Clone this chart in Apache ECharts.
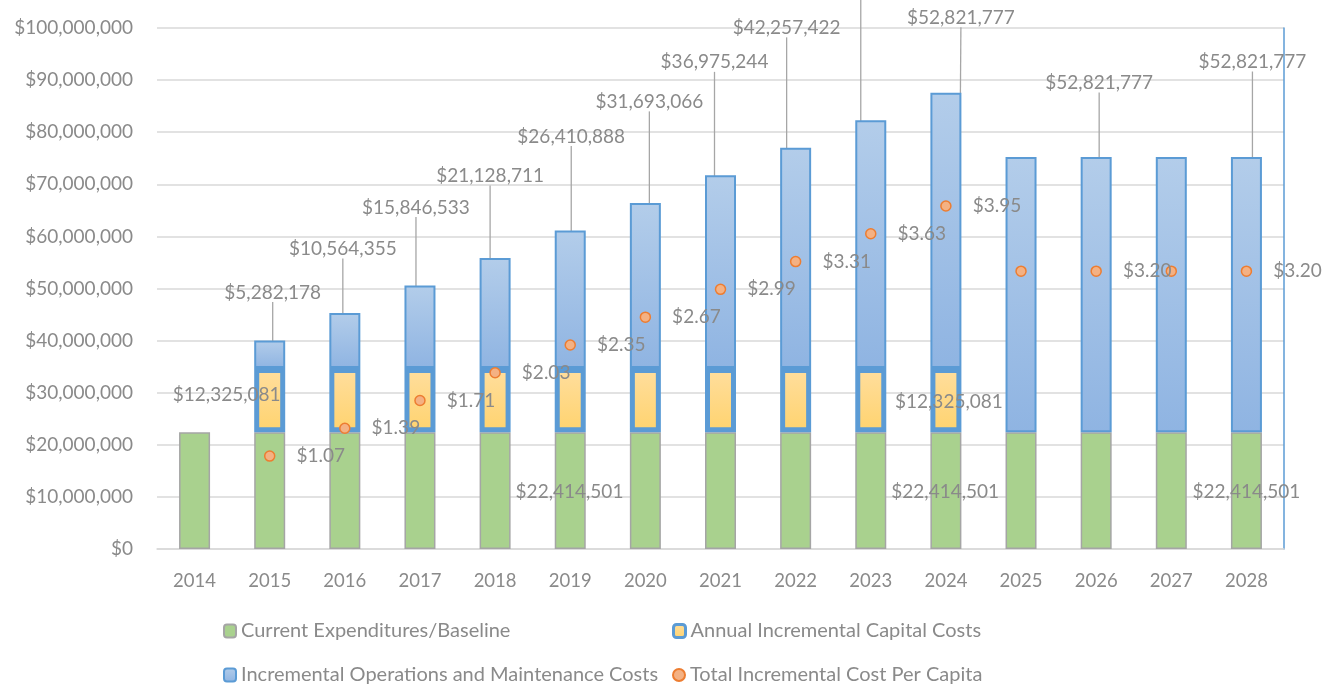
<!DOCTYPE html>
<html>
<head>
<meta charset="utf-8">
<script src="https://cdn.jsdelivr.net/npm/echarts@6/dist/echarts.min.js"></script>
<style>
  html, body { margin: 0; padding: 0; background: #ffffff; }
  #chart { width: 1338px; height: 686px; }
</style>
</head>
<body>
<div id="chart"></div>
<script>
// Fiscal years on the category axis
const years = ['2014', '2015', '2016', '2017', '2018', '2019', '2020', '2021',
               '2022', '2023', '2024', '2025', '2026', '2027', '2028'];

// Cost components (dollars per year), stacked bottom to top
const baseline = [22414501, 22414501, 22414501, 22414501, 22414501, 22414501, 22414501, 22414501,
                  22414501, 22414501, 22414501, 22414501, 22414501, 22414501, 22414501];
const capital = ['-', 12325081, 12325081, 12325081, 12325081, 12325081, 12325081, 12325081,
                 12325081, 12325081, 12325081, '-', '-', '-', '-'];
const operations = ['-', 5282178, 10564355, 15846533, 21128711, 26410888, 31693066, 36975244,
                    42257422, 47539599, 52821777, 52821777, 52821777, 52821777, 52821777];

// Total incremental cost per capita (dollars), plotted on the secondary axis
const perCapita = ['-', 1.07, 1.39, 1.71, 2.03, 2.35, 2.67, 2.99, 3.31, 3.63, 3.95, 3.20, 3.20, 3.20, 3.20];

// Axis ranges
const costAxis = { min: 0, max: 100000000, interval: 10000000 };
const perCapitaAxis = { min: 0, max: 6 };

// Series names (legend entries)
const NAME_BASE = 'Current Expenditures/Baseline';
const NAME_CAP = 'Annual Incremental Capital Costs';
const NAME_OM = 'Incremental Operations and Maintenance Costs';
const NAME_PC = 'Total Incremental Cost Per Capita';

// Which points carry a value label
const baselineLabelled = { 4: 'right', 9: 'right', 14: 'inside' };
const capitalLabelled = { 1: [-43, -5], 10: [3, 2] };
// Callout placement for the O&M labels: [dx, dy] of the label centre from the bar top centre
const operationsCallouts = {
  1: [3, -48], 2: [-2, -64], 3: [-4, -78], 4: [-5, -82], 5: [1, -94], 6: [4, -101],
  7: [-6, -113], 8: [-9, -120], 9: [-10, -136], 10: [15, -75], 12: [3, -74], 14: [6, -95]
};
const perCapitaUnlabelled = [11, 13];

const FONT = 'Lato, "Open Sans", sans-serif';
const GREY = '#8a8a8a';
const BLUE = '#5B9BD5';

const money = v => '$' + Math.round(v).toLocaleString('en-US');

const labelText = { color: GREY, fontFamily: FONT, fontSize: 19 };

const baselineData = baseline.map((v, i) => {
  const pos = baselineLabelled[i];
  return pos ? { value: v, label: { show: true, position: pos, distance: 5, offset: [0, 1] } } : v;
});

const capitalData = capital.map((v, i) => {
  const off = capitalLabelled[i];
  return off ? { value: v, label: { show: true, position: 'inside', offset: off } } : v;
});

const operationsData = operations.map((v, i) =>
  operationsCallouts[i] ? { value: v, label: { show: true } } : v);

const perCapitaData = perCapita.map((v, i) =>
  perCapitaUnlabelled.indexOf(i) >= 0 ? { value: v, label: { show: false } } : v);

// One legend block per entry so the two columns line up
function legendEntry(item, left, top) {
  return {
    data: [item],
    orient: 'horizontal',
    left: left, top: top,
    padding: 0,
    itemWidth: 12, itemHeight: 13,
    textStyle: { color: GREY, fontFamily: FONT, fontSize: 20 },
    selectedMode: false
  };
}

const chart = echarts.init(document.getElementById('chart'), null, { renderer: 'canvas' });

chart.setOption({
  animation: false,
  backgroundColor: '#ffffff',
  textStyle: { fontFamily: FONT },
  grid: { left: 157, right: 54, top: 28, bottom: 137, containLabel: false },
  legend: [
    legendEntry(NAME_BASE, 223, 621),
    legendEntry(NAME_OM, 223, 665),
    legendEntry({ name: NAME_CAP, icon: 'roundRect', itemStyle: { borderWidth: 3 } }, 672, 621),
    legendEntry({ name: NAME_PC, icon: 'circle' }, 672, 665)
  ],
  xAxis: {
    type: 'category',
    data: years,
    boundaryGap: true,
    axisLine: { show: true, lineStyle: { color: '#d9d9d9', width: 1.5 } },
    axisTick: { show: false },
    axisLabel: { color: GREY, fontFamily: FONT, fontSize: 18.5, margin: 23 }
  },
  yAxis: [
    {
      type: 'value',
      min: costAxis.min, max: costAxis.max, interval: costAxis.interval,
      axisLine: { show: false },
      axisTick: { show: false },
      axisLabel: { color: GREY, fontFamily: FONT, fontSize: 19, margin: 24, formatter: money },
      splitLine: { show: true, lineStyle: { color: '#d9d9d9', width: 1.5 } }
    },
    {
      type: 'value',
      min: perCapitaAxis.min, max: perCapitaAxis.max,
      position: 'right',
      axisLine: { show: true, lineStyle: { color: BLUE, width: 1.5 } },
      axisTick: { show: false },
      axisLabel: { show: false },
      splitLine: { show: false }
    }
  ],
  series: [
    {
      name: NAME_BASE,
      type: 'bar',
      stack: 'cost',
      barWidth: 31,
      z: 2,
      data: baselineData,
      itemStyle: { color: '#A9D18E', borderColor: '#a5a5a5', borderWidth: 1.5 },
      label: { show: false, formatter: p => money(p.value), ...labelText }
    },
    {
      name: NAME_CAP,
      type: 'bar',
      stack: 'cost',
      barWidth: 31,
      z: 4,
      data: capitalData,
      itemStyle: {
        color: new echarts.graphic.LinearGradient(0, 0, 0, 1, [
          { offset: 0, color: '#FFDE9E' },
          { offset: 1, color: '#FFD36E' }
        ]),
        borderColor: BLUE,
        borderWidth: 5
      },
      label: { show: false, formatter: p => money(p.value), ...labelText }
    },
    {
      name: NAME_OM,
      type: 'bar',
      stack: 'cost',
      barWidth: 31,
      z: 3,
      data: operationsData,
      itemStyle: {
        color: new echarts.graphic.LinearGradient(0, 0, 0, 1, [
          { offset: 0, color: '#B3CDEA' },
          { offset: 1, color: '#8FB4E2' }
        ]),
        borderColor: BLUE,
        borderWidth: 2
      },
      label: {
        show: false,
        position: 'top',
        padding: [6, 0, 6, 0],
        formatter: p => money(p.value),
        ...labelText
      },
      labelLine: { show: true, length2: 0, smooth: false, lineStyle: { color: '#a6a6a6', width: 1.3 } },
      labelLayout: function (p) {
        const off = operationsCallouts[p.dataIndex];
        if (!off || !p.rect) return {};
        return {
          x: p.rect.x + p.rect.width / 2 + off[0],
          y: p.rect.y + off[1],
          align: 'center',
          verticalAlign: 'middle'
        };
      }
    },
    {
      name: NAME_PC,
      type: 'scatter',
      yAxisIndex: 1,
      z: 6,
      symbol: 'circle',
      symbolSize: 10,
      data: perCapitaData,
      itemStyle: { color: '#F4B183', borderColor: '#ED7D31', borderWidth: 1.5, opacity: 1 },
      label: {
        show: true,
        position: 'right',
        distance: 21,
        formatter: p => '$' + Number(p.value).toFixed(2),
        ...labelText
      }
    }
  ]
});
</script>
</body>
</html>
